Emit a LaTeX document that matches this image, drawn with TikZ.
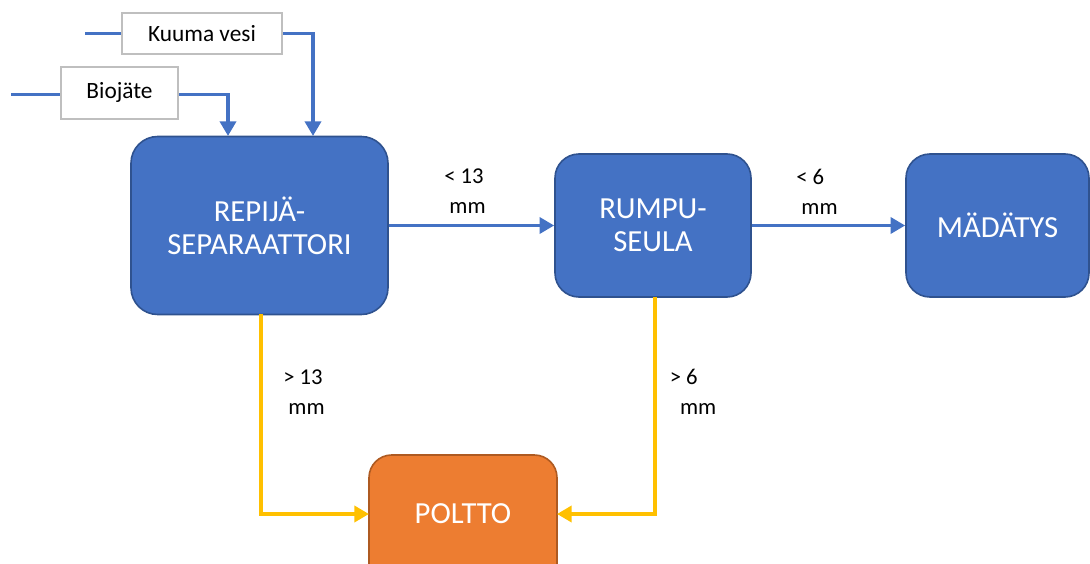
\documentclass[tikz,border=0pt]{standalone}
\usepackage{fontspec}
\setmainfont{Carlito}
\usetikzlibrary{arrows.meta}
\definecolor{boxblue}{HTML}{4472C4}
\definecolor{boxblueedge}{HTML}{2F528F}
\definecolor{boxorange}{HTML}{ED7D31}
\definecolor{boxorangeedge}{HTML}{AE5A21}
\definecolor{flowyellow}{HTML}{FFC000}
\definecolor{inputgray}{HTML}{BFBFBF}
\tikzset{
  procbox/.style={draw=boxblueedge, fill=boxblue, line width=1.2pt, rounded corners=20pt,
    text=white, align=center, inner sep=0pt, font=\fontsize{23}{25}\selectfont},
  burnbox/.style={procbox, draw=boxorangeedge, fill=boxorange},
  inbox/.style={draw=inputgray, fill=white, line width=1.5pt, inner sep=0pt,
    font=\fontsize{17.5}{20}\selectfont},
  blueflow/.style={draw=boxblue, line width=2.8pt},
  yellowflow/.style={draw=flowyellow, line width=2.8pt},
  tip/.style={-{Triangle[length=11pt,width=12pt]}},
  lbl/.style={align=left, inner sep=0pt, font=\fontsize{17}{22.5}\selectfont}
}
\begin{document}
\begin{tikzpicture}[x=0.75pt,y=-0.75pt]
  \useasboundingbox (0,0) rectangle (1090,564);
  \clip (0,0) rectangle (1090,564);

  % process boxes
  \node[procbox, minimum width=192.75pt, minimum height=133.5pt] (rep) at (259.5,225.5) {REPIJÄ-\\SEPARAATTORI};
  \node[procbox, rounded corners=18pt, minimum width=147pt, minimum height=107.25pt] (rum) at (653,225.5) {RUMPU-\\SEULA};
  \node[procbox, rounded corners=18pt, minimum width=137.25pt, minimum height=107.25pt] (mad) at (997.5,225.5) {MÄDÄTYS};
  \node[burnbox, rounded corners=17pt, minimum width=141pt, minimum height=107.25pt] (pol) at (463,526.5) {};
  \node[text=white, font=\fontsize{23}{25}\selectfont, inner sep=0pt] (poltxt) at (463,514) {POLTTO};

  % feed boxes
  \node[inbox, minimum width=120pt, minimum height=30.75pt] (kv) at (202,33.5) {Kuuma vesi};
  \node[inbox, minimum width=87.75pt, minimum height=39pt] (bio) at (119.5,92.5) {Biojäte};

  % feed lines
  \coordinate (kvsrc) at (85,33.5);
  \coordinate (biosrc) at (11,94.5);
  \coordinate (kvin) at (313,136);
  \coordinate (bioin) at (228,136);
  \draw[blueflow] (kvsrc) -- (kv.west);
  \draw[blueflow] (biosrc) -- (biosrc -| bio.west);
  \draw[blueflow, tip] (kv.east) -| (kvin);
  \draw[blueflow, tip] (bio.east |- biosrc) -| (bioin);

  % fine fractions
  \draw[blueflow, tip] (rep.east) -- (rum.west);
  \draw[blueflow, tip] (rum.east) -- (mad.west);

  % coarse fractions to incineration
  \coordinate (repout) at (261,314);
  \coordinate (rumout) at (655,297);
  \coordinate (polin) at (369,514);
  \coordinate (polin2) at (557,514);
  \draw[yellowflow, tip] (repout) |- (polin);
  \draw[yellowflow, tip] (rumout) |- (polin2);

  % size labels
  \node[lbl] (l1) at (465,191) {< 13\\\ mm};
  \node[lbl] (l2) at (817,192) {< 6\\\ mm};
  \node[lbl] (l3) at (304,392) {> 13\\\ mm};
  \node[lbl] (l4) at (693,392) {> 6\\\ \ mm};
\end{tikzpicture}
\end{document}
